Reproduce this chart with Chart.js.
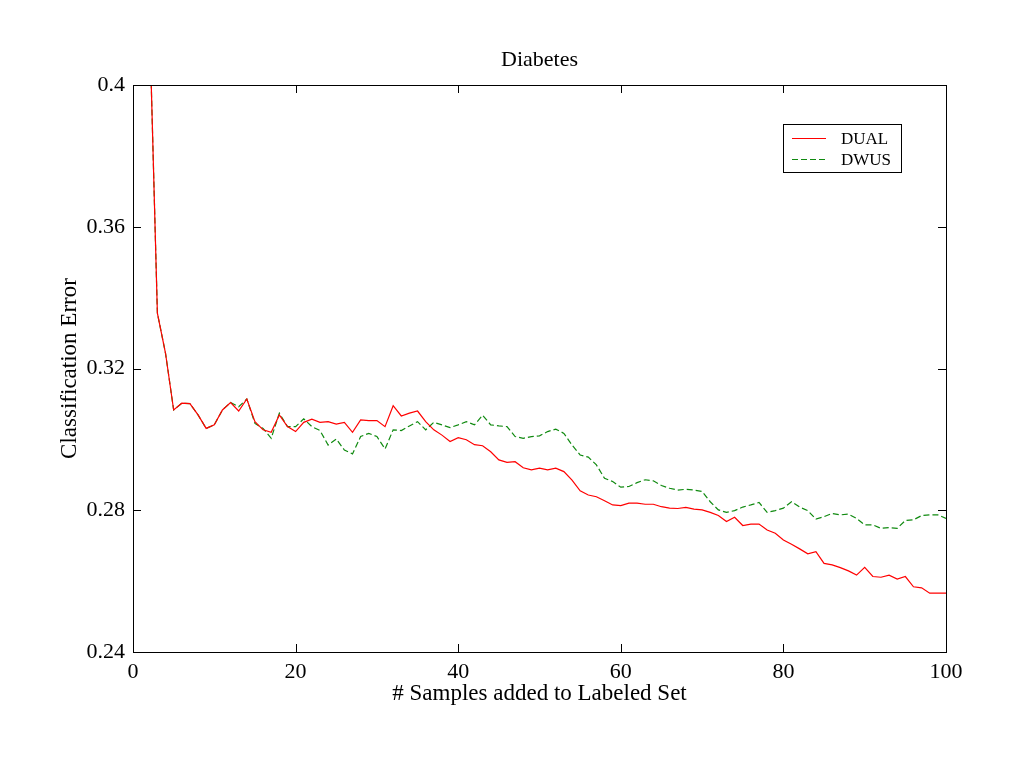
<!DOCTYPE html>
<html>
<head>
<meta charset="utf-8">
<title>Diabetes</title>
<script src="https://cdn.jsdelivr.net/npm/chart.js@4.4.0/dist/chart.umd.min.js"></script>
<style>
  html, body { margin: 0; padding: 0; background: #fff; }
  #wrap { width: 1024px; height: 768px; }
</style>
</head>
<body>
<div id="wrap"><canvas id="chart" width="1024" height="768"></canvas></div>
<script>
// Classification error vs. number of samples added (Diabetes data set)

const samples = [
  2, 3, 4, 5, 6, 7, 8, 9, 10, 11, 12, 13, 14, 15, 16, 17, 18, 19, 20,
  21, 22, 23, 24, 25, 26, 27, 28, 29, 30, 31, 32, 33, 34, 35, 36, 37, 38, 39, 40,
  41, 42, 43, 44, 45, 46, 47, 48, 49, 50, 51, 52, 53, 54, 55, 56, 57, 58, 59, 60,
  61, 62, 63, 64, 65, 66, 67, 68, 69, 70, 71, 72, 73, 74, 75, 76, 77, 78, 79, 80,
  81, 82, 83, 84, 85, 86, 87, 88, 89, 90, 91, 92, 93, 94, 95, 96, 97, 98, 99, 100
];

const dualError = [
  0.421, 0.3356, 0.3243, 0.3083, 0.3102, 0.3101, 0.3069, 0.3031, 0.3041, 0.3083,
  0.3104, 0.3080, 0.3114, 0.3050, 0.3027, 0.3020, 0.3069, 0.3036, 0.3022,
  0.3048, 0.3057, 0.3048, 0.3050, 0.3043, 0.3048, 0.3020, 0.3055, 0.3053, 0.3053,
  0.3036, 0.3095, 0.3066, 0.3074, 0.3080, 0.3050, 0.3027, 0.3012, 0.2994, 0.3005,
  0.2999, 0.2985, 0.2982, 0.2965, 0.2942, 0.2935, 0.2937, 0.2920, 0.2914, 0.2919,
  0.2914, 0.2919, 0.2909, 0.2885, 0.2855, 0.2843, 0.2838, 0.2827, 0.2815, 0.2813,
  0.2820, 0.2820, 0.2817, 0.2817, 0.2810, 0.2806, 0.2805, 0.2808, 0.2803, 0.2801,
  0.2794, 0.2785, 0.2768, 0.2780, 0.2757, 0.2761, 0.2761, 0.2744, 0.2735, 0.2716,
  0.2704, 0.2691, 0.2677, 0.2683, 0.2650, 0.2646, 0.2638, 0.2629, 0.2617, 0.2639,
  0.2613, 0.2611, 0.2617, 0.2606, 0.2613, 0.2584, 0.2581, 0.2566, 0.2566, 0.2566
];

const dwusError = [
  0.421, 0.3356, 0.3243, 0.3083, 0.3102, 0.3101, 0.3069, 0.3031, 0.3041, 0.3083,
  0.3104, 0.3092, 0.3114, 0.3045, 0.3031, 0.3003, 0.3074, 0.3036, 0.3036,
  0.3058, 0.3036, 0.3025, 0.2984, 0.3001, 0.2970, 0.2959, 0.3008, 0.3017, 0.3008,
  0.2973, 0.3027, 0.3025, 0.3038, 0.3050, 0.3027, 0.3048, 0.3041, 0.3033, 0.3041,
  0.3050, 0.3041, 0.3068, 0.3041, 0.3038, 0.3036, 0.3008, 0.3003, 0.3008, 0.3010,
  0.3022, 0.3029, 0.3017, 0.2984, 0.2956, 0.2950, 0.2928, 0.2890, 0.2881, 0.2865,
  0.2867, 0.2878, 0.2886, 0.2883, 0.2870, 0.2862, 0.2857, 0.2859, 0.2857, 0.2853,
  0.2824, 0.2801, 0.2794, 0.2799, 0.2809, 0.2815, 0.2822, 0.2794, 0.2799, 0.2806,
  0.2824, 0.2809, 0.2799, 0.2775, 0.2782, 0.2791, 0.2787, 0.2789, 0.2777, 0.2759,
  0.2759, 0.2749, 0.2751, 0.2749, 0.2771, 0.2773, 0.2785, 0.2787, 0.2787, 0.2777
];

const xTicks = [0, 20, 40, 60, 80, 100];
const yTicks = [0.24, 0.28, 0.32, 0.36, 0.4];
const yTickLabels = ['0.24', '0.28', '0.32', '0.36', '0.4'];

const SERIF = '"Liberation Serif", "Times New Roman", Times, serif';

Chart.defaults.font.family = SERIF;
Chart.defaults.color = '#000';

/**
 * Frame, inward tick marks, title and the boxed legend (Matlab style)
 */
const matlabFrame = {
    id: 'matlabFrame',
    afterDraw(chart) {
        const ctx = chart.ctx;
        const area = chart.chartArea;
        const xs = chart.scales.x;
        const ys = chart.scales.y;
        const tick = 8;

        ctx.save();
        ctx.strokeStyle = '#000';
        ctx.lineWidth = 1;

        // box around the plot
        ctx.strokeRect(area.left + 0.5, area.top + 0.5, area.right - area.left, area.bottom - area.top);

        ctx.beginPath();
        xTicks.forEach(v => {
            const px = Math.round(xs.getPixelForValue(v)) + 0.5;
            ctx.moveTo(px, area.bottom);
            ctx.lineTo(px, area.bottom - tick);
            ctx.moveTo(px, area.top);
            ctx.lineTo(px, area.top + tick);
        });
        yTicks.forEach(v => {
            const py = Math.round(ys.getPixelForValue(v)) + 0.5;
            ctx.moveTo(area.left, py);
            ctx.lineTo(area.left + tick, py);
            ctx.moveTo(area.right, py);
            ctx.lineTo(area.right - tick, py);
        });
        ctx.stroke();

        // title
        ctx.fillStyle = '#000';
        ctx.font = '22px ' + SERIF;
        ctx.textAlign = 'center';
        ctx.textBaseline = 'middle';
        ctx.fillText('Diabetes', (area.left + area.right) / 2, 60);

        // legend box
        const box = { left: 783.5, top: 124.5, width: 118, height: 48 };
        ctx.fillStyle = '#fff';
        ctx.fillRect(box.left, box.top, box.width, box.height);
        ctx.strokeRect(box.left, box.top, box.width, box.height);

        ctx.font = '17px ' + SERIF;
        ctx.textAlign = 'left';
        chart.data.datasets.forEach((ds, i) => {
            const y = 138.5 + i * 21;
            ctx.beginPath();
            ctx.strokeStyle = ds.borderColor;
            ctx.setLineDash(ds.borderDash || []);
            ctx.moveTo(792, y);
            ctx.lineTo(826, y);
            ctx.stroke();
            ctx.setLineDash([]);
            ctx.fillStyle = '#000';
            ctx.fillText(ds.label, 841, y + 1);
        });

        ctx.restore();
    }
};

new Chart(document.getElementById('chart'), {
    type: 'line',
    data: {
        datasets: [
            {
                label: 'DUAL',
                data: samples.map((x, i) => ({ x: x, y: dualError[i] })),
                borderColor: '#ff0000',
                borderWidth: 1.2,
                pointRadius: 0,
                tension: 0,
                fill: false
            },
            {
                label: 'DWUS',
                data: samples.map((x, i) => ({ x: x, y: dwusError[i] })),
                borderColor: '#108a10',
                borderWidth: 1.2,
                borderDash: [6, 3],
                pointRadius: 0,
                tension: 0,
                fill: false
            }
        ]
    },
    options: {
        responsive: false,
        animation: false,
        devicePixelRatio: 1,
        layout: { padding: { top: 85, right: 78, left: 0, bottom: 0 } },
        plugins: {
            legend: { display: false },
            title: { display: false },
            tooltip: { enabled: false }
        },
        scales: {
            x: {
                type: 'linear',
                min: 0,
                max: 100,
                afterBuildTicks: scale => { scale.ticks = xTicks.map(v => ({ value: v })); },
                afterFit: scale => { scale.height = 116; },
                grid: { display: false, drawTicks: false },
                border: { display: false },
                ticks: {
                    padding: 7,
                    maxRotation: 0,
                    font: { size: 22 },
                    callback: v => String(v)
                },
                title: {
                    display: true,
                    text: '# Samples added to Labeled Set',
                    font: { size: 23 },
                    padding: { top: 0, bottom: 60 }
                }
            },
            y: {
                min: 0.24,
                max: 0.4,
                afterBuildTicks: scale => { scale.ticks = yTicks.map(v => ({ value: v })); },
                afterFit: scale => { scale.width = 133; },
                grid: { display: false, drawTicks: false },
                border: { display: false },
                ticks: {
                    padding: 8,
                    font: { size: 22 },
                    callback: v => yTickLabels[yTicks.findIndex(t => Math.abs(t - v) < 1e-9)]
                },
                title: {
                    display: true,
                    text: 'Classification Error',
                    font: { size: 23 },
                    padding: { top: 56, bottom: 0 }
                }
            }
        }
    },
    plugins: [matlabFrame]
});
</script>
</body>
</html>
